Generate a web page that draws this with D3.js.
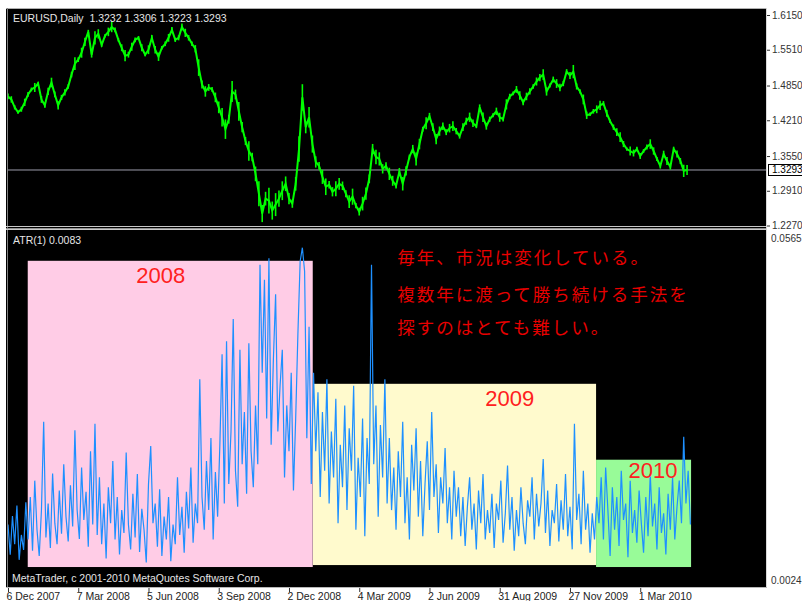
<!DOCTYPE html>
<html><head><meta charset="utf-8">
<script src="https://cdn.jsdelivr.net/npm/d3@7"></script>
<style>html,body{margin:0;padding:0;background:#fff;}svg{display:block;}</style>
</head><body>
<script>
// ---------- data ----------
const priceTicks = [1.6150, 1.5510, 1.4850, 1.4210, 1.3550, 1.2910, 1.2270];
const atrTicks = [0.0565, 0.0024];
const dateTickBars = [0, 63, 126, 189, 252, 315, 378, 441, 504, 567];
const dateTickLabels = ["6 Dec 2007", "7 Mar 2008", "5 Jun 2008", "3 Sep 2008", "2 Dec 2008",
  "4 Mar 2009", "2 Jun 2009", "31 Aug 2009", "27 Nov 2009", "1 Mar 2010"];
const totalBars = 612;
const priceStepBars = 3;
const atrStepBars = 2;
// EURUSD daily close, sampled every 3 bars
const priceClose = [
1.4649,1.4594,1.4448,1.4357,1.4412,1.4540,1.4686,1.4778,1.4814,1.4887,
1.4594,1.4485,1.4741,1.4906,1.4686,1.4485,1.4631,1.4723,1.4832,1.5052,
1.5253,1.5327,1.5455,1.5656,1.5839,1.5418,1.5729,1.5802,1.5601,1.5766,
1.5839,1.5930,1.5875,1.5693,1.5546,1.5400,1.5418,1.5565,1.5693,1.5729,
1.5546,1.5418,1.5510,1.5729,1.5510,1.5381,1.5546,1.5619,1.5729,1.5875,
1.5693,1.5729,1.5930,1.5821,1.5729,1.5619,1.5528,1.5180,1.4869,1.4741,
1.4814,1.4778,1.4631,1.4448,1.4265,1.4045,1.4229,1.4741,1.4686,1.4375,
1.4082,1.3826,1.3643,1.3533,1.3222,1.2856,1.2490,1.2765,1.2728,1.2545,
1.2655,1.2765,1.2911,1.3039,1.2765,1.2673,1.3039,1.3679,1.4631,1.4082,
1.4265,1.3771,1.3441,1.3368,1.3167,1.2984,1.3021,1.2892,1.2947,1.3039,
1.3002,1.2856,1.2710,1.2801,1.2636,1.2526,1.2673,1.2856,1.3130,1.3679,
1.3533,1.3497,1.3314,1.3368,1.3222,1.3094,1.3002,1.3259,1.3039,1.3277,
1.3533,1.3679,1.3497,1.3771,1.4045,1.4155,1.4283,1.4082,1.3863,1.4009,
1.4100,1.3990,1.4064,1.4100,1.4009,1.3917,1.4082,1.4192,1.4265,1.4155,
1.4100,1.4448,1.4265,1.4100,1.4229,1.4302,1.4375,1.4265,1.4229,1.4503,
1.4649,1.4704,1.4778,1.4668,1.4540,1.4649,1.4741,1.4832,1.4924,1.4997,
1.5052,1.4741,1.4851,1.4961,1.4887,1.4814,1.4887,1.5107,1.5034,1.5107,
1.4832,1.4741,1.4594,1.4302,1.4320,1.4375,1.4412,1.4485,1.4521,1.4338,
1.4192,1.4082,1.3990,1.3899,1.3771,1.3679,1.3643,1.3606,1.3679,1.3551,
1.3643,1.3716,1.3771,1.3643,1.3497,1.3368,1.3588,1.3460,1.3350,1.3679,
1.3588,1.3460,1.3277,1.3293];
// ATR(1) (= daily high-low range) in pips, sampled every 2 bars
const atrPips = [
118,72,131,88,147,64,102,79,152,
95,160,78,185,110,70,140,275,98,150,82,196,120,88,170,104,210,130,92,178,115,262,140,96,205,125,168,84,230,118,272,102,
190,88,150,66,175,120,215,95,160,72,140,105,228,118,80,165,98,195,76,142,110,60,180,238,120,150,84,172,70,130,95,160,62,118,88,190,102,145,75,168,112,205,90,150,120,340,
160,110,215,140,250,95,198,130,240,378,150,398,180,260,432,200,145,385,210,290,165,395,230,175,
300,210,515,350,492,280,525,240,370,470,260,330,385,190,300,230,350,170,280,410,520,541,505,250,420,180,350,
230,320,160,290,200,340,150,260,190,310,120,240,175,300,140,265,200,330,110,220,160,280,100,250,180,515,210,300,130,270,190,340,150,
250,140,205,110,230,160,275,120,190,95,240,170,265,130,215,100,180,245,140,290,160,210,105,190,150,235,120,175,95,200,
130,175,100,160,85,145,190,110,150,80,170,120,195,95,140,105,165,82,150,125,185,90,135,208,110,160,78,140,100,175,120,88,155,130,190,95,165,115,150,218,105,170,85,140,120,180,92,155,110,195,100,145,80,272,125,165,88,200,110,150,75,135,95,160,
120,190,95,205,140,70,175,110,160,85,200,125,150,68,185,105,140,90,170,120,75,160,100,195,115,150,80,175,105,135,72,165,110,190,95,145,185,120,252,150,200,118];
const lastPrice = 1.3293;
const ohlcText = "EURUSD,Daily  1.3232 1.3306 1.3223 1.3293";
const atrText = "ATR(1) 0.0083";
const copyrightText = "MetaTrader, c 2001-2010 MetaQuotes Software Corp.";
const years = ["2008", "2009", "2010"];
const yearStartBar = [17.7, 273.5, 527.4];
const yearEndBar = [273.3, 527.4, 612.6];
const yearTopPips = [521, 333, 217];
const yearBottomPips = [53, 56, 53];
const yearLabelBar = [137, 450, 578.5];
const yearLabelPips = [498, 311, 201];
const noteLines = ["毎年、市況は変化している。", "複数年に渡って勝ち続ける手法を", "探すのはとても難しい。"];
const noteBar = 349;
const noteLinePips = [527, 471, 420];

// ---------- styles ----------
const yearFill = ["#ffcce6", "#fffacd", "#98fb98"];
const W = 802, H = 601;
const L = 6, R = 767, T = 8, SEP = 228, B = 588;

const svg = d3.select("body").append("svg").attr("width", W).attr("height", H)
  .style("font-family", "'Liberation Sans', Arial, sans-serif");

const x = d3.scaleLinear().domain([0, totalBars]).range([8, 690.4]);
const yP = d3.scaleLinear().domain([1.2270, 1.6150]).range([225.5, 15]);
const yA = d3.scaleLinear().domain([0.0024, 0.0565]).range([586, 232]);

svg.append("rect").attr("x", L).attr("y", T).attr("width", R - L).attr("height", B - T).attr("fill", "#000");

const defs = svg.append("defs");
defs.append("clipPath").attr("id", "cTop").append("rect").attr("x", L + 1).attr("y", T + 1).attr("width", R - L - 1).attr("height", SEP - T - 3);
defs.append("clipPath").attr("id", "cBot").append("rect").attr("x", L + 1).attr("y", SEP + 3).attr("width", R - L - 1).attr("height", B - SEP - 4);

// ---- top panel ----
const gTop = svg.append("g").attr("clip-path", "url(#cTop)");
gTop.append("line").attr("x1", L).attr("x2", R).attr("y1", yP(lastPrice)).attr("y2", yP(lastPrice))
  .attr("stroke", "#9c9cab").attr("stroke-width", 1);
// daily range bars (height = ATR(1) of the bar) around the close
const rangeOf = (i) => atrPips[Math.min(atrPips.length - 1, Math.round(i * priceStepBars / atrStepBars))] / 10000;
gTop.append("g").selectAll("line").data(priceClose).join("line")
  .attr("x1", (d, i) => x(i * priceStepBars)).attr("x2", (d, i) => x(i * priceStepBars))
  .attr("y1", (d, i) => yP(d + rangeOf(i) * 0.45)).attr("y2", (d, i) => yP(d - rangeOf(i) * 0.45))
  .attr("stroke", "#00ff00").attr("stroke-width", 1.6);
gTop.append("path").datum(priceClose)
  .attr("d", d3.line().x((d, i) => x(i * priceStepBars)).y(d => yP(d)))
  .attr("fill", "none").attr("stroke", "#00ff00").attr("stroke-width", 2).attr("stroke-linejoin", "miter");
svg.append("text").attr("x", 13).attr("y", 22).attr("fill", "#e6e6e6").attr("font-size", 10.5)
  .style("white-space", "pre").text(ohlcText);

// ---- bottom panel ----
const gBot = svg.append("g").attr("clip-path", "url(#cBot)");
years.forEach((yr, i) => {
  gBot.append("rect")
    .attr("x", x(yearStartBar[i])).attr("width", x(yearEndBar[i]) - x(yearStartBar[i]))
    .attr("y", yA(yearTopPips[i] / 10000)).attr("height", yA(yearBottomPips[i] / 10000) - yA(yearTopPips[i] / 10000))
    .attr("fill", yearFill[i]);
});
gBot.append("path").datum(atrPips)
  .attr("d", d3.line().x((d, i) => x(i * atrStepBars)).y(d => yA(d / 10000)))
  .attr("fill", "none").attr("stroke", "#1e90ff").attr("stroke-width", 1.2);
years.forEach((yr, i) => {
  gBot.append("text").attr("x", x(yearLabelBar[i])).attr("y", yA(yearLabelPips[i] / 10000))
    .attr("text-anchor", "middle").attr("dominant-baseline", "central")
    .attr("fill", "#ff2020").attr("font-size", 22).text(yr);
});
noteLines.forEach((t, i) => {
  gBot.append("text").attr("x", x(noteBar)).attr("y", yA(noteLinePips[i] / 10000))
    .attr("dominant-baseline", "central").attr("fill", "#e80000")
    .attr("font-family", "'Noto Sans CJK JP', sans-serif").attr("font-size", 17.5)
    .attr("letter-spacing", 2).text(t);
});
svg.append("text").attr("x", 13).attr("y", 244).attr("fill", "#e6e6e6").attr("font-size", 10.5).text(atrText);
svg.append("text").attr("x", 12).attr("y", 582).attr("fill", "#e6e6e6").attr("font-size", 10.5).text(copyrightText);

// ---- frame lines ----
const frame = svg.append("g").attr("fill", "none");
frame.append("line").attr("x1", L).attr("x2", R).attr("y1", T + 0.5).attr("y2", T + 0.5).attr("stroke", "#b0b0b0");
frame.append("line").attr("x1", L + 1.5).attr("x2", L + 1.5).attr("y1", T).attr("y2", B).attr("stroke", "#808080");
frame.append("line").attr("x1", L).attr("x2", R).attr("y1", SEP - 1.5).attr("y2", SEP - 1.5).attr("stroke", "#c8c8c8");
frame.append("line").attr("x1", L).attr("x2", R).attr("y1", SEP + 0.5).attr("y2", SEP + 0.5).attr("stroke", "#909090");
frame.append("line").attr("x1", L).attr("x2", R).attr("y1", SEP + 1.5).attr("y2", SEP + 1.5).attr("stroke", "#c8c8c8");
frame.append("line").attr("x1", R - 0.5).attr("x2", R - 0.5).attr("y1", T).attr("y2", B).attr("stroke", "#d8d8d8");
frame.append("line").attr("x1", L).attr("x2", R).attr("y1", B - 0.5).attr("y2", B - 0.5).attr("stroke", "#b8b8b8");

// ---- price axis ----
const axP = svg.append("g").attr("transform", `translate(${R},0)`)
  .call(d3.axisRight(yP).tickValues(priceTicks).tickSize(3).tickPadding(2).tickFormat(d3.format(".4f")));
axP.select(".domain").remove();
axP.selectAll("line").attr("stroke", "#333");
axP.selectAll("text").attr("font-size", 10).attr("fill", "#333").attr("font-family", "'Liberation Sans', Arial, sans-serif");
const cp = svg.append("g").attr("transform", `translate(${R + 1},${yP(lastPrice)})`);
cp.append("rect").attr("x", 0.5).attr("y", -5.5).attr("width", 34).attr("height", 11).attr("fill", "#fff").attr("stroke", "#000");
cp.append("text").attr("x", 4).attr("y", 0).attr("dy", "0.35em").attr("font-size", 10).attr("fill", "#000").text(d3.format(".4f")(lastPrice));

// ---- ATR axis ----
const axA = svg.append("g").attr("transform", `translate(${R},0)`)
  .call(d3.axisRight(yA).tickValues(atrTicks).tickSize(0).tickPadding(4).tickFormat(d3.format(".4f")));
axA.select(".domain").remove();
axA.selectAll("text").attr("font-size", 10).attr("fill", "#333").attr("font-family", "'Liberation Sans', Arial, sans-serif")
  .attr("dy", (d) => d === atrTicks[0] ? "0.95em" : "-0.3em");

// ---- date axis ----
const axX = svg.append("g").attr("transform", `translate(0,${B})`)
  .call(d3.axisBottom(x).tickValues(dateTickBars).tickSize(4).tickPadding(1).tickFormat((d, i) => dateTickLabels[i]));
axX.select(".domain").remove();
axX.selectAll("line").attr("stroke", "#333");
axX.selectAll("text").attr("text-anchor", "start").attr("dx", -2).attr("font-size", 10.5).attr("fill", "#222")
  .attr("font-family", "'Liberation Sans', Arial, sans-serif");
</script>
</body></html>
